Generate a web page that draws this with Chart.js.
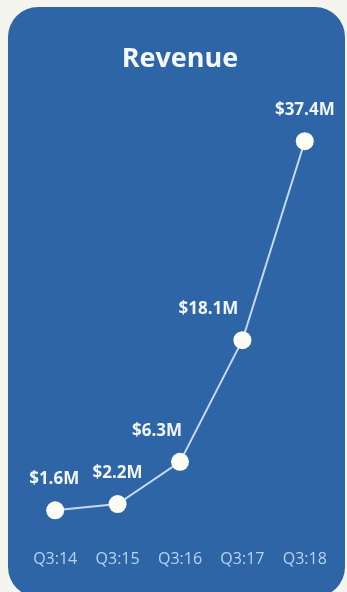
<!DOCTYPE html>
<html>
<head>
<meta charset="utf-8">
<script src="https://cdn.jsdelivr.net/npm/chart.js@4.4.1/dist/chart.umd.min.js"></script>
<style>
  html, body { margin: 0; padding: 0; background: #f4f5ef; width: 347px; height: 592px; overflow: hidden; }
  .card {
    position: absolute; left: 8px; top: 7px; width: 337px; height: 590px;
    background: #2e65a6; border-radius: 30px; overflow: hidden;
  }
  canvas { display: block; }
</style>
</head>
<body>
<div class="card"><canvas id="revenue" width="337" height="590"></canvas></div>
<script>
// data ($M)
const quarters = ['Q3:14', 'Q3:15', 'Q3:16', 'Q3:17', 'Q3:18'];
const revenue = [1.6, 2.2, 6.3, 18.1, 37.4];
const valueLabels = ['$1.6M', '$2.2M', '$6.3M', '$18.1M', '$37.4M'];

// nudge labels left where the line would cross them
const labelDx = [-1, 0, -23, -34, 0];

const pointLabels = {
  id: 'pointLabels',
  afterDatasetsDraw(chart) {
    const ctx = chart.ctx;
    const meta = chart.getDatasetMeta(0);
    ctx.save();
    ctx.font = 'bold 17px "Open Sans"';
    ctx.fillStyle = '#f2f6fb';
    ctx.textAlign = 'center';
    ctx.textBaseline = 'middle';
    meta.data.forEach((pt, i) => {
      ctx.fillText(valueLabels[i], pt.x + labelDx[i], pt.y - 31);
    });
    ctx.restore();
  }
};

new Chart(document.getElementById('revenue'), {
  type: 'line',
  data: {
    labels: quarters,
    datasets: [{
      data: revenue,
      borderColor: '#c6daef',
      borderWidth: 2,
      pointRadius: 9,
      pointHoverRadius: 9,
      pointBackgroundColor: '#fdfdf6',
      pointBorderWidth: 0,
      tension: 0
    }]
  },
  options: {
    responsive: false,
    animation: false,
    layout: { padding: { left: 16, right: 9, top: 0, bottom: 25 } },
    plugins: {
      legend: { display: false },
      tooltip: { enabled: false },
      title: {
        display: true,
        text: 'Revenue',
        color: '#f4f7fb',
        font: { family: 'Open Sans', size: 27, weight: 'bold' },
        padding: { top: 36, bottom: 39 }
      }
    },
    scales: {
      x: {
        offset: true,
        // invisible tick marks give the gap under the plot
        grid: { display: true, drawOnChartArea: false, drawTicks: true, tickLength: 20, color: 'rgba(0,0,0,0)' },
        border: { display: false },
        ticks: { color: '#b8d4f0', padding: 3, font: { family: 'Open Sans', size: 16 } }
      },
      y: {
        display: false,
        min: 0,
        max: 40
      }
    }
  },
  plugins: [pointLabels]
});
</script>
</body>
</html>
